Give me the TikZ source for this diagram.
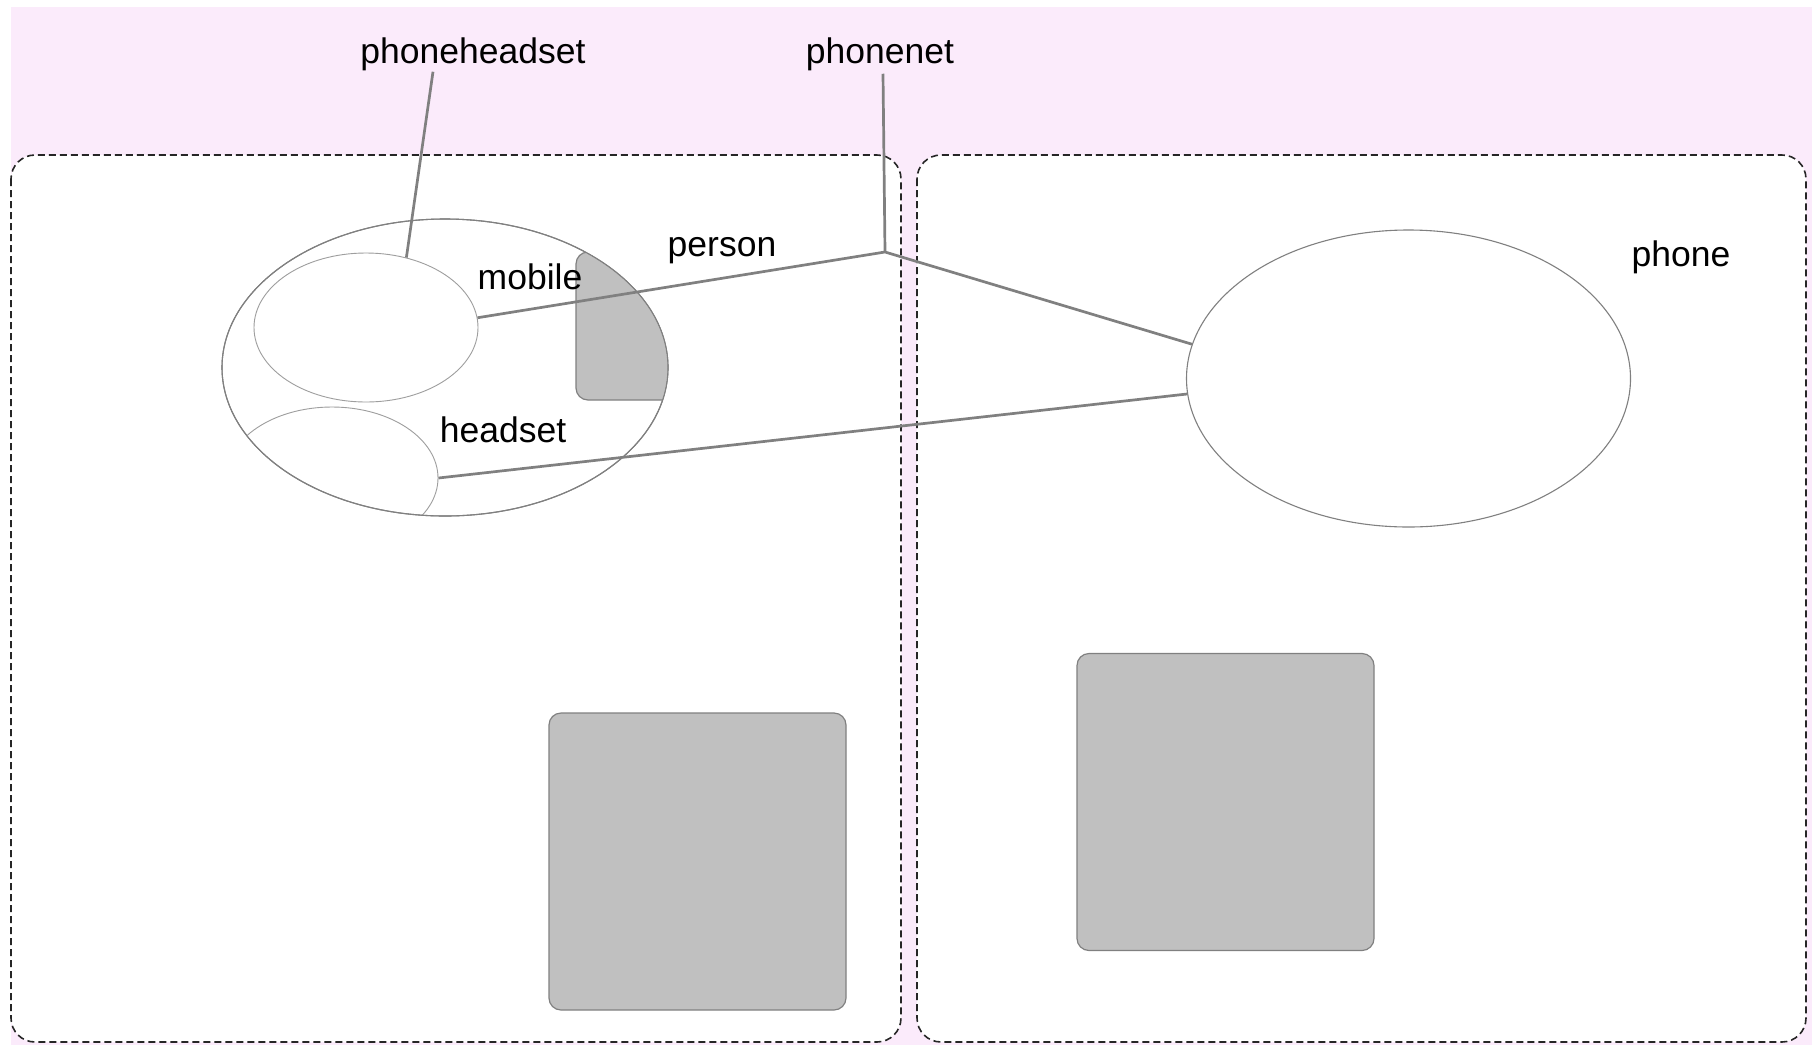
\documentclass[tikz,border=0pt]{standalone}
\usepackage{fontspec}
\setmainfont{Liberation Sans}
\usetikzlibrary{shapes.geometric}
\definecolor{bgpink}{RGB}{251,235,251}
\definecolor{wire}{RGB}{128,128,128}
\definecolor{shade}{RGB}{192,192,192}
\tikzset{
  lane/.style={draw=black!85, line width=1.6pt, dash pattern=on 7pt off 4pt,
               fill=white, rounded corners=24pt},
  blob/.style={ellipse, draw=black!50, line width=1.1pt, fill=white, inner sep=0pt},
  subblob/.style={ellipse, draw=black!38, line width=0.9pt, inner sep=0pt},
  block/.style={draw=black!50, line width=1.2pt, fill=shade, rounded corners=12pt},
  wirestyle/.style={draw=wire, line width=2.7pt},
  lbl/.style={font=\fontsize{35.5}{40}\selectfont, inner sep=0pt},
}
\begin{document}
\begin{tikzpicture}[x=1pt,y=-1pt]
  \useasboundingbox (0,0) rectangle (1812,1045);
  % backdrop
  \fill[bgpink] (11,7) rectangle (1812,1045);
  % the two dashed regions
  \draw[lane] (11,155) rectangle (901,1042);
  \draw[lane] (917,155) rectangle (1806,1042);

  % person with its parts
  \node[blob, minimum width=446pt, minimum height=297pt] (person) at (445,367.5) {};
  \begin{scope}
    \clip (445,367.5) ellipse [x radius=222.5pt, y radius=148pt];
    \draw[block] (576,252) rectangle (730,400);
    \node[subblob, minimum width=212pt, minimum height=142pt] (headset) at (332,478) {};
  \end{scope}
  \node[subblob, minimum width=224pt, minimum height=149pt] (mobile) at (366,327.5) {};
  \draw[black!50, line width=1.1pt] (445,367.5) ellipse [x radius=223pt, y radius=148.5pt];

  % phone
  \node[blob, minimum width=444pt, minimum height=297pt] (phone) at (1408.5,378.5) {};

  % grey blocks
  \node[block, minimum width=297pt, minimum height=297pt] (blockA) at (697.5,861.5) {};
  \node[block, minimum width=297pt, minimum height=297pt] (blockB) at (1225.5,802) {};

  % labels
  \node[lbl] (phoneheadset) at (473,54) {phoneheadset};
  \node[lbl] (phonenet) at (880,54) {phonenet};
  \node[lbl] (lmobile) at (530,277) {mobile};
  \node[lbl] (lperson) at (722,251) {person};
  \node[lbl] (lheadset) at (503,430) {headset};
  \node[lbl] (lphone) at (1681,257) {phone};

  % connectors
  \coordinate (net) at (885,252);
  \draw[wirestyle] ([xshift=-40pt,yshift=-1pt]phoneheadset.south) -- (mobile.60);
  \draw[wirestyle] ([xshift=3pt,yshift=-3pt]phonenet.south) -- (net);
  \draw[wirestyle] (mobile.5) -- (net) -- (phone.171);
  \draw[wirestyle] (headset.east) -- (phone.184);
\end{tikzpicture}
\end{document}
